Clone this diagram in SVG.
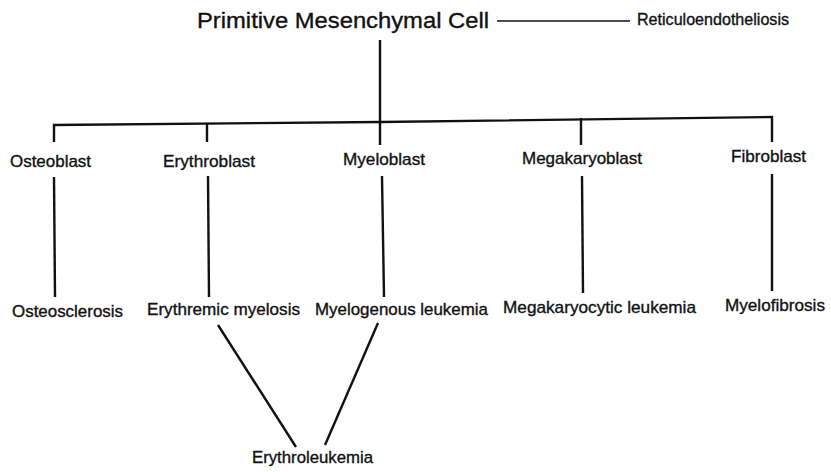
<svg xmlns="http://www.w3.org/2000/svg" width="831" height="472" viewBox="0 0 831 472">
<style>
text{font-family:"Liberation Sans",Arial,Helvetica,sans-serif;fill:#111;stroke:#111;stroke-width:0.35;}
.n{font-size:17px;}
.c line,.c polyline{stroke:#111;stroke-width:2.4;fill:none;stroke-linecap:butt;}
.c .thin{stroke-width:1.5;}
</style>
<rect width="831" height="472" fill="#fff"/>
<g id="connectors" class="c">
<line class="thin" x1="497" y1="21" x2="630" y2="21"/>
<line x1="380" y1="40" x2="380" y2="145"/>
<polyline points="54,142 54,125 380,122 772,117 772,142"/>
<line x1="207" y1="124" x2="207" y2="142"/>
<line x1="581" y1="118" x2="581" y2="145"/>
<line x1="54" y1="177" x2="55" y2="297"/>
<line x1="208" y1="176" x2="209" y2="297"/>
<line x1="382" y1="176" x2="384" y2="297"/>
<line x1="582" y1="176" x2="583" y2="293"/>
<line x1="772" y1="174" x2="772" y2="291"/>
<line x1="218" y1="325" x2="296" y2="447"/>
<line x1="378" y1="323" x2="325" y2="445"/>
</g>
<g id="primitive"><text x="197" y="28" font-size="22" textLength="292" lengthAdjust="spacingAndGlyphs">Primitive Mesenchymal Cell</text></g>
<g id="reticulo"><text x="637" y="25" font-size="16" textLength="152" lengthAdjust="spacingAndGlyphs">Reticuloendotheliosis</text></g>
<g id="osteoblast"><text class="n" x="10" y="167" textLength="81" lengthAdjust="spacingAndGlyphs">Osteoblast</text></g>
<g id="erythroblast"><text class="n" x="163" y="167" textLength="92" lengthAdjust="spacingAndGlyphs">Erythroblast</text></g>
<g id="myeloblast"><text class="n" x="343" y="165" textLength="82" lengthAdjust="spacingAndGlyphs">Myeloblast</text></g>
<g id="megakaryoblast"><text class="n" x="522" y="164" textLength="120" lengthAdjust="spacingAndGlyphs">Megakaryoblast</text></g>
<g id="fibroblast"><text class="n" x="731" y="162" textLength="75" lengthAdjust="spacingAndGlyphs">Fibroblast</text></g>
<g id="osteosclerosis"><text class="n" x="12" y="317" textLength="111" lengthAdjust="spacingAndGlyphs">Osteosclerosis</text></g>
<g id="erythremic"><text class="n" x="147" y="315" textLength="153" lengthAdjust="spacingAndGlyphs">Erythremic myelosis</text></g>
<g id="myelogenous"><text class="n" x="315" y="315" textLength="173" lengthAdjust="spacingAndGlyphs">Myelogenous leukemia</text></g>
<g id="megakaryocytic"><text class="n" x="503" y="313" textLength="193" lengthAdjust="spacingAndGlyphs">Megakaryocytic leukemia</text></g>
<g id="myelofibrosis"><text class="n" x="725" y="311" textLength="100" lengthAdjust="spacingAndGlyphs">Myelofibrosis</text></g>
<g id="erythroleukemia"><text class="n" x="252" y="463" textLength="121" lengthAdjust="spacingAndGlyphs">Erythroleukemia</text></g>
</svg>
